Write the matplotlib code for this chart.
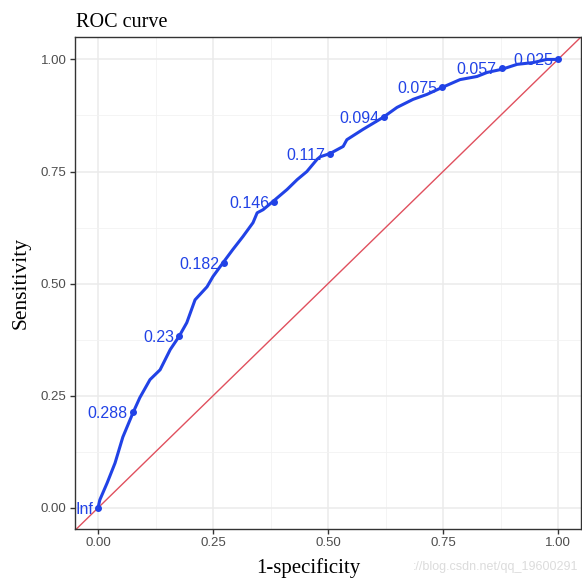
import matplotlib
matplotlib.use("Agg")
import matplotlib.pyplot as plt
from matplotlib.ticker import MultipleLocator

# ROC curve traced values
fpr = [0.000, 0.004, 0.020, 0.037, 0.054, 0.076, 0.091, 0.113, 0.135, 0.157, 0.176,
       0.193, 0.211, 0.237, 0.250, 0.272, 0.293, 0.315, 0.337, 0.346, 0.359, 0.380,
       0.411, 0.433, 0.454, 0.476, 0.483, 0.504, 0.533, 0.541, 0.576, 0.620, 0.650,
       0.685, 0.715, 0.748, 0.787, 0.824, 0.846, 0.878, 0.911, 0.946, 0.976, 1.000]
tpr = [0.000, 0.018, 0.056, 0.100, 0.158, 0.212, 0.246, 0.286, 0.308, 0.353, 0.382,
       0.413, 0.464, 0.493, 0.516, 0.547, 0.576, 0.605, 0.636, 0.658, 0.665, 0.683,
       0.710, 0.732, 0.750, 0.777, 0.783, 0.790, 0.806, 0.821, 0.844, 0.871, 0.893,
       0.911, 0.922, 0.9375, 0.955, 0.962, 0.971, 0.978, 0.989, 0.993, 1.000, 1.000]

# threshold labels
thr_x = [0.000, 0.076, 0.176, 0.274, 0.383, 0.504, 0.622, 0.748, 0.878, 1.000]
thr_y = [0.000, 0.214, 0.384, 0.547, 0.683, 0.790, 0.871, 0.9375, 0.980, 1.000]
thr_text = ["Inf", "0.288", "0.23", "0.182", "0.146", "0.117", "0.094", "0.075", "0.057", "0.025"]

ticks = [0.00, 0.25, 0.50, 0.75, 1.00]
tick_labels = ["0.00", "0.25", "0.50", "0.75", "1.00"]

blue = "#2142e6"
fig = plt.figure(figsize=(5.82, 5.80), dpi=100)
ax = fig.add_axes([75/582, 51/580, 506/582, 492/580])

ax.set_xlim(-0.05, 1.05)
ax.set_ylim(-0.047, 1.05)

ax.set_xticks(ticks)
ax.set_xticklabels(tick_labels)
ax.set_yticks(ticks)
ax.set_yticklabels(tick_labels)
ax.xaxis.set_minor_locator(MultipleLocator(0.125))
ax.yaxis.set_minor_locator(MultipleLocator(0.125))
ax.grid(which="major", color="#ebebeb", lw=1.1)
ax.grid(which="minor", color="#f2f2f2", lw=0.6)
ax.set_axisbelow(True)
ax.tick_params(which="major", length=3.5, width=1, color="#333333",
               labelsize=9.5, labelcolor="#4d4d4d", pad=2.5)
ax.tick_params(which="minor", length=0)
for t in ax.get_xticklabels() + ax.get_yticklabels():
    t.set_fontfamily("Liberation Sans")
for s in ax.spines.values():
    s.set_color("#333333")
    s.set_linewidth(1.0)

# diagonal
ax.plot([-0.06, 1.06], [-0.06, 1.06], color="#e0505e", lw=1.0, zorder=2)
# ROC curve
ax.plot(fpr, tpr, color=blue, lw=2.2, zorder=3, solid_joinstyle="round")
ax.scatter(thr_x, thr_y, s=16, color=blue, zorder=4)
for x, y, t in zip(thr_x, thr_y, thr_text):
    ax.text(x - 0.011, y, t, color=blue, fontsize=11.5, ha="right", va="center_baseline",
            family="Liberation Sans", zorder=5)

fig.text(76/582, 1 - 27/580, "ROC curve", family="Liberation Serif", fontsize=14.5,
         ha="left", va="baseline")
fig.text(308/582, 1 - 573/580, "1-specificity", family="Liberation Serif", fontsize=15,
         ha="center", va="baseline")
fig.text(26/582, 1 - 283/580, "Sensitivity", family="Liberation Serif", fontsize=15.5,
         ha="center", va="baseline", rotation=90, rotation_mode="anchor")

fig.text(578/582, 1 - 570/580, "://blog.csdn.net/qq_19600291", family="Liberation Sans",
         fontsize=9, color="#dcdcdc", ha="right", va="baseline")

fig.savefig("out.png", dpi=100)
